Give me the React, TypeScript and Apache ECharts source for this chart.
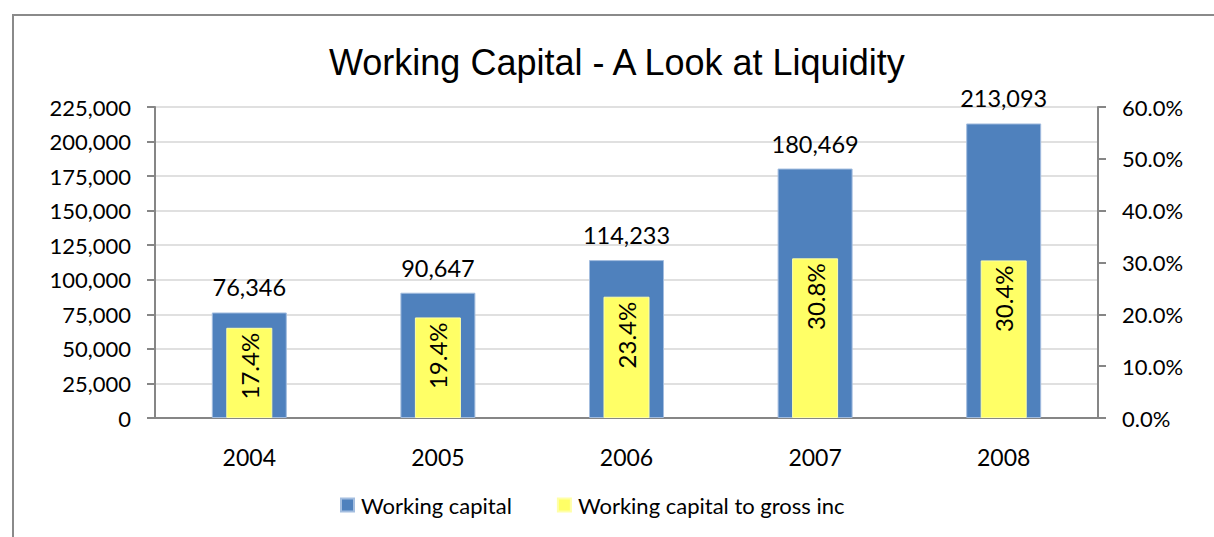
import React, { useEffect, useRef } from "react";
import * as echarts from "echarts";

const years = ["2004", "2005", "2006", "2007", "2008"];
const workingCapital = [76346, 90647, 114233, 180469, 213093];
const wcToGrossInc = [17.4, 19.4, 23.4, 30.8, 30.4];
const titleText = "Working Capital - A Look at Liquidity";
const seriesNames = ["Working capital", "Working capital to gross inc"];

const FONT = "Lato";
const AXIS_GRAY = "#868686";

export default function App() {
  const ref = useRef<HTMLDivElement>(null);
  useEffect(() => {
    if (!ref.current) return;
    const chart = echarts.init(ref.current, null, { renderer: "svg" });
    chart.setOption({
      animation: false,
      backgroundColor: "#ffffff",
      title: {
        text: titleText,
        left: 329,
        top: 44,
        padding: 0,
        textStyle: {
          fontFamily: "Liberation Sans",
          fontSize: 36,
          fontWeight: "normal",
          color: "#000",
        },
      },
      graphic: [
        {
          type: "rect",
          shape: { x: 13, y: 15, width: 1210, height: 540 },
          style: { fill: "none", stroke: "#8a8a8a", lineWidth: 2 },
          silent: true,
        },
      ],
      legend: {
        left: 340,
        top: 494,
        padding: 0,
        itemWidth: 13,
        itemHeight: 13,
        itemGap: 45,
        icon: "rect",
        textStyle: { fontFamily: FONT, fontSize: 22, color: "#000", padding: [0, 0, 0, 2] },
        data: seriesNames,
      },
      grid: { left: 155, right: 116, top: 107, bottom: 119, containLabel: false },
      xAxis: [
        {
          type: "category",
          data: years,
          axisLine: { lineStyle: { color: AXIS_GRAY, width: 2 } },
          axisTick: { length: 8, lineStyle: { color: AXIS_GRAY, width: 2 } },
          axisLabel: { fontFamily: FONT, fontSize: 23, color: "#000", margin: 27 },
        },
        {
          type: "category",
          data: years,
          show: false,
          gridIndex: 0,
        },
      ],
      yAxis: [
        {
          type: "value",
          min: 0,
          max: 225000,
          interval: 25000,
          axisLine: { show: true, lineStyle: { color: AXIS_GRAY, width: 2 } },
          axisTick: { show: true, length: 8, lineStyle: { color: AXIS_GRAY, width: 2 } },
          splitLine: { lineStyle: { color: "#d6d6d6", width: 1.5 } },
          axisLabel: {
            fontFamily: FONT,
            fontSize: 22,
            color: "#000",
            margin: 24,
            formatter: (v: number) => v.toLocaleString("en-US"),
          },
        },
        {
          type: "value",
          min: 0,
          max: 60,
          interval: 10,
          position: "right",
          axisLine: { show: true, lineStyle: { color: AXIS_GRAY, width: 2 } },
          axisTick: { show: true, length: 8, lineStyle: { color: AXIS_GRAY, width: 2 } },
          splitLine: { show: false },
          axisLabel: {
            fontFamily: FONT,
            fontSize: 22,
            color: "#000",
            margin: 24,
            formatter: (v: number) => v.toFixed(1) + "%",
          },
        },
      ],
      series: [
        {
          name: seriesNames[0],
          type: "bar",
          xAxisIndex: 0,
          yAxisIndex: 0,
          data: workingCapital,
          barWidth: 75,
          itemStyle: { color: "#4f81bd", borderColor: "#a3bddf", borderWidth: 1 },
          label: {
            show: true,
            position: "top",
            distance: 13,
            fontFamily: FONT,
            fontSize: 23.5,
            color: "#000",
            formatter: (p: any) => Number(p.value).toLocaleString("en-US"),
          },
        },
        {
          name: seriesNames[1],
          type: "bar",
          xAxisIndex: 1,
          yAxisIndex: 1,
          data: wcToGrossInc,
          barWidth: 46,
          itemStyle: { color: "#ffff66", borderColor: "#ffffa8", borderWidth: 1 },
          label: {
            show: true,
            position: "insideTop",
            rotate: 90,
            align: "right",
            verticalAlign: "middle",
            distance: 5,
            fontFamily: FONT,
            fontSize: 24,
            color: "#000",
            formatter: (p: any) => Number(p.value).toFixed(1) + "%",
          },
        },
      ],
    });
    return () => chart.dispose();
  }, []);
  return (
    <div
      ref={ref}
      style={{ position: "fixed", left: 0, top: 0, width: 1214, height: 537 }}
    />
  );
}
